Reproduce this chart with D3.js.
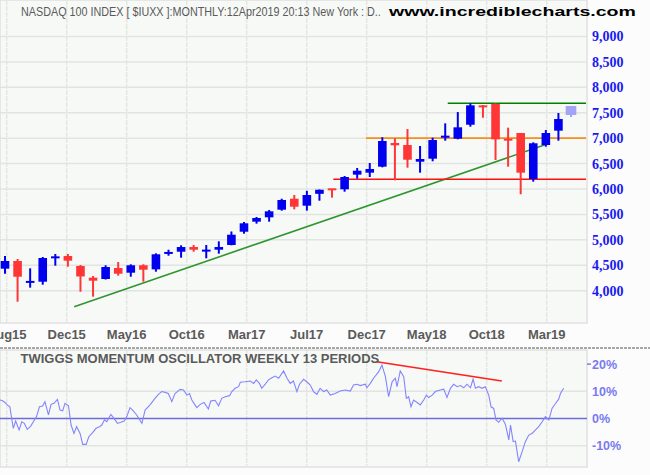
<!DOCTYPE html>
<html><head><meta charset="utf-8">
<script src="https://cdn.jsdelivr.net/npm/d3@7"></script>
<style>body{margin:0;background:#fbfcfb;} svg{display:block}</style>
</head><body><svg id="c" width="650" height="475"></svg>
<script>
// ---------- DATA ----------
const months = ["Jul15","Aug15","Sep15","Oct15","Nov15","Dec15","Jan16","Feb16","Mar16","Apr16","May16","Jun16",
  "Jul16","Aug16","Sep16","Oct16","Nov16","Dec16","Jan17","Feb17","Mar17","Apr17","May17","Jun17",
  "Jul17","Aug17","Sep17","Oct17","Nov17","Dec17","Jan18","Feb18","Mar18","Apr18","May18","Jun18",
  "Jul18","Aug18","Sep18","Oct18","Nov18","Dec18","Jan19","Feb19","Mar19","Apr19"];
const opens  = [4433,4584,4165,4177,4648,4682,4486,4256,4230,4446,4354,4500,
  4420,4730,4767,4859,4781,4806,4899,5160,5357,5443,5593,5809,
  5672,5905,5998,5994,6282,6321,6439,6905,6865,6537,6596,7009,
  6989,7264,7632,7672,6983,7101,6197,6865,7147,7455];
const highs  = [4682,4623,4440,4663,4722,4722,4505,4289,4500,4564,4519,4519,
  4735,4806,4893,4899,4899,4971,5165,5351,5449,5587,5809,5882,
  5965,5990,6000,6256,6413,6511,7017,6997,7179,6846,7009,7291,
  7513,7685,7652,7685,7206,7101,6918,7160,7494,7632];
const lows   = [4334,3784,4060,4118,4492,4472,3980,3882,4220,4295,4275,4177,
  4374,4688,4649,4767,4637,4728,4893,5121,5318,5357,5573,5600,
  5575,5770,5830,5947,6203,6236,6426,6171,6419,6321,6545,6950,
  6977,7225,7402,6570,6439,5896,6144,6832,6950,7416];
const closes = [4584,4275,4181,4643,4664,4590,4280,4197,4466,4334,4500,4413,
  4716,4755,4859,4806,4795,4859,5101,5325,5430,5561,5784,5652,
  5882,5985,5990,6236,6360,6393,6944,6859,6576,6590,6963,7049,
  7213,7645,7618,6977,6957,6321,6899,7101,7376,7632];
const priceTicks = [4000,4500,5000,5500,6000,6500,7000,7500,8000,8500,9000];
const monthTickLabels = ["Aug15","Dec15","May16","Oct16","Mar17","Jul17","Dec17","May18","Oct18","Mar19"];

// support / resistance lines (month index, price)
const supportMonths = [5.5, 43.0];
const supportValues = [3685, 6875];
const hLineStart = [35.2, 28.7, 26.1];   // month index where the horizontal lines begin
const hLineValue = [7685, 7000, 6191];

// weekly oscillator: week number (from late Jun 2015) and % value
const oscWeeks = [0,0.9,1.7,2.5,3.4,4.6,5.4,6.6,7.5,8.4,9.4,10.6,11.5,12.6,13.6,14.7,15.5,16.7,17.6,18.6,
  19.8,20.7,21.6,22.4,23.6,24.5,25.5,26.4,27.6,28.5,29.7,30.6,32.0,33.1,34.3,35.1,36.0,36.8,38.2,39.1,
  40.5,41.6,42.8,43.7,44.8,45.7,47.1,48.9,50.0,51.7,53.4,54.6,55.7,56.9,58.0,59.2,60.3,62.1,63.2,64.4,
  65.3,66.1,67.8,69.0,70.3,71.8,72.6,74.1,75.3,76.4,77.6,79.1,79.9,81.0,82.2,82.8,84.5,86.2,87.4,88.3,
  89.4,90.2,91.4,92.5,93.7,94.8,96.0,97.7,98.9,100.0,101.1,102.3,103.2,104.6,105.7,106.9,108.0,109.2,110.3,
  111.5,112.6,113.8,115.5,117.2,119.0,120.7,121.8,123.0,124.1,125.9,126.4,127.6,128.7,130.5,131.6,132.8,
  133.9,135.1,136.2,136.8,137.9,139.1,140.0,140.8,141.6,142.5,143.7,144.8,146.0,146.9,147.7,148.9,150.0,
  151.7,152.9,154.0,155.2,156.3,157.5,158.6,159.8,160.9,162.1,163.0,163.8,164.9,166.1,167.2,168.4,169.2,
  170.1,170.9,171.8,173.0,174.1,174.7,175.3,175.9,176.8,177.6,178.7,179.9,181.0,182.2,183.3,184.5,185.6,
  186.8,187.9,189.1,190.2,191.4,192.5,193.1,194.2];
const oscValues = [6.8,6.5,5.9,5.0,4.3,-3.6,-0.9,-4.2,-1.2,-1.8,-4.0,-2.8,-1.2,0.7,4.3,4.6,6.2,1.3,5.2,5.6,
  7.0,3.1,2.8,5.6,4.7,-2.4,-5.5,-3.0,-5.5,-9.5,-9.5,-6.7,-5.1,-3.6,-3.0,-2.4,-0.5,-1.2,1.5,0.3,
  -1.8,-1.4,-0.9,0.7,4.0,3.1,1.3,-1.8,3.1,5.0,7.4,8.9,9.9,9.6,9.2,6.2,9.2,10.7,10.5,8.6,
  9.2,6.8,4.0,5.2,5.9,3.5,6.4,6.7,4.7,7.4,8.0,8.4,9.9,11.1,11.7,13.3,13.5,13.8,12.9,14.2,
  12.9,11.1,12.6,14.2,15.0,15.6,14.8,17.5,14.8,12.9,13.8,9.9,12.6,14.4,13.5,12.3,9.9,8.9,11.1,
  9.9,10.5,8.6,9.2,10.1,10.5,10.1,12.3,12.6,12.1,12.6,11.3,12.9,14.8,17.2,19.7,15.4,
  8.0,13.5,14.8,11.7,17.5,15.4,7.4,8.0,4.3,6.8,5.9,5.0,6.8,8.6,7.7,8.6,9.9,
  10.5,10.8,7.7,11.1,12.6,11.7,12.1,11.3,12.6,11.3,14.5,11.1,11.7,11.1,11.7,8.6,4.3,
  3.7,-0.5,-1.4,0.1,-2.1,-4.8,-7.9,-2.4,-8.5,-8.3,-15.9,-12.2,-8.5,-6.1,-5.5,-4.2,-3.0,
  -1.2,0.7,-0.5,3.7,5.5,7.1,9.2,11.1];
const oscTicks = [20,10,0,-10];
const oscGridTicks = [10,-10];
const divergenceMonths = [29.55, 39.5];
const divergenceValues = [20.9, 13.8];

// ---------- CHART ----------
const svg = d3.select("#c");
const plotRight = 587, mainTop = 0, mainBottom = 323, oscTop = 350, oscBottom = 467;
const xM = d3.scaleLinear().domain([0, months.length - 1]).range([5, 571]);
const y = d3.scaleLinear().domain([4000, 8000]).range([290.7, 87.3]);
const xW = d3.scaleLinear().domain([0, 52/12]).range([xM(-0.4), xM(0.6)]);
const yO = d3.scaleLinear().domain([0, 20]).range([418.5, 364.1]);
const gridX = d3.scalePoint().domain(monthTickLabels).range([6.7, 546.7]);

// text squeezed horizontally to a target width (transform keeps its box honest)
function fitText(x, yBase, width, str, attrs) {
  const t = svg.append("text").attr("x", 0).attr("y", 0).text(str);
  Object.entries(attrs).forEach(([k, v]) => t.attr(k, v));
  const w = t.node().getComputedTextLength();
  t.attr("transform", `translate(${x},${yBase}) scale(${width / w},1)`);
  return t;
}

svg.append("rect").attr("width",650).attr("height",475).attr("fill","#fbfcfb");
// main panel
svg.append("rect").attr("x",0).attr("y",mainTop).attr("width",plotRight).attr("height",mainBottom-mainTop)
  .attr("fill","#f7f9f7").attr("stroke","#e0e0e0").attr("stroke-width",1.5);
const gMain = svg.append("g");
gMain.selectAll("line.hg").data(priceTicks).join("line")
  .attr("x1",0).attr("x2",plotRight).attr("y1",d=>y(d)).attr("y2",d=>y(d))
  .attr("stroke","#e2e4e2").attr("stroke-width",1.5);
gMain.selectAll("line.vg").data(monthTickLabels).join("line")
  .attr("x1",d=>gridX(d)).attr("x2",d=>gridX(d)).attr("y1",mainTop).attr("y2",mainBottom)
  .attr("stroke","#e4e6e4").attr("stroke-width",1.5).attr("stroke-dasharray","5,1");

// right axis labels
svg.append("g").selectAll("text").data(priceTicks).join("text")
  .attr("x",592).attr("y",d=>y(d)).attr("dy","0.36em")
  .attr("font-family","'Liberation Serif','Times New Roman',serif").attr("font-weight","bold")
  .attr("font-size",14).attr("fill","#1a1af0").text(d=>d3.format(",")(d));

// x labels
svg.append("g").selectAll("text").data(monthTickLabels).join("text")
  .attr("x",d=>gridX(d)).attr("y",339).attr("text-anchor","middle")
  .attr("font-family","'Liberation Sans Narrow','Arial Narrow','Liberation Sans',sans-serif")
  .attr("font-weight","bold").attr("font-size",13).attr("fill","#5a5a5a").text(d=>d);

// support line
const supLine = d3.line().x(d=>xM(d[0])).y(d=>y(d[1]));
gMain.append("path").attr("d", supLine(d3.zip(supportMonths, supportValues)))
  .attr("fill","none").attr("stroke","#2f962f").attr("stroke-width",1.6);
// horizontal lines
const hColors = ["#008000","#f39020","#ff1010"];
hLineValue.forEach((v,i)=>{
  gMain.append("line").attr("x1",xM(hLineStart[i])).attr("x2",plotRight-1)
    .attr("y1",y(v)).attr("y2",y(v)).attr("stroke",hColors[i]).attr("stroke-width",1.6);
});

// candles
const candles = months.map((m,i)=>({m,i,o:opens[i],h:highs[i],l:lows[i],c:closes[i]}));
const last = months.length - 1;
const colorOf = d => d.i === last ? "#a4a4f6" : (d.c >= d.o ? "#0000ee" : "#ff3636");
const bw = 8.6;
const gC = gMain.append("g");
gC.selectAll("line.wick").data(candles).join("line")
  .attr("x1",d=>xM(d.i)).attr("x2",d=>xM(d.i)).attr("y1",d=>y(d.h)).attr("y2",d=>y(d.l))
  .attr("stroke",colorOf).attr("stroke-width",2);
gC.selectAll("rect.body").data(candles).join("rect")
  .attr("x",d=>xM(d.i)-bw/2 - (d.i===last?1:0)).attr("width",d=>bw + (d.i===last?2:0))
  .attr("y",d=>{const t=y(Math.max(d.o,d.c)), b=y(Math.min(d.o,d.c)); return b-t<2 ? (t+b)/2-1 : t;})
  .attr("height",d=>Math.max(2, y(Math.min(d.o,d.c))-y(Math.max(d.o,d.c))))
  .attr("fill",colorOf);

// title
const sansN = "'Liberation Sans Narrow','Arial Narrow','Liberation Sans',sans-serif";
fitText(21, 16, 360, "NASDAQ 100 INDEX [ $IUXX ]:MONTHLY:12Apr2019 20:13 New York : D..",
  {"font-size":13, "font-family":sansN, "fill":"#5a5a5a"});
fitText(389, 16, 247, "www.incrediblecharts.com",
  {"font-size":13, "font-family":sansN, "font-weight":"bold", "fill":"#000"});

// separator
svg.append("line").attr("x1",0).attr("x2",650).attr("y1",348).attr("y2",348)
  .attr("stroke","#a8a8a8").attr("stroke-width",2).attr("stroke-dasharray","3,1");

// oscillator panel
svg.append("rect").attr("x",0).attr("y",oscTop).attr("width",plotRight).attr("height",oscBottom-oscTop)
  .attr("fill","#f7f9f7").attr("stroke","#e0e0e0").attr("stroke-width",1.5);
const gO = svg.append("g");
gO.selectAll("line.og").data(oscGridTicks).join("line")
  .attr("x1",0).attr("x2",plotRight).attr("y1",d=>yO(d)).attr("y2",d=>yO(d))
  .attr("stroke","#e2e4e2").attr("stroke-width",1.5);
gO.selectAll("line.ov").data(monthTickLabels).join("line")
  .attr("x1",d=>gridX(d)).attr("x2",d=>gridX(d)).attr("y1",oscTop).attr("y2",oscBottom)
  .attr("stroke","#e4e6e4").attr("stroke-width",1.5).attr("stroke-dasharray","5,1");
gO.append("line").attr("x1",0).attr("x2",plotRight).attr("y1",yO(0)).attr("y2",yO(0))
  .attr("stroke","#6c6cd6").attr("stroke-width",1.5);
fitText(20.5, 363, 359, "TWIGGS MOMENTUM OSCILLATOR WEEKLY 13 PERIODS",
  {"font-size":13, "font-family":"'Liberation Sans','Arial',sans-serif", "font-weight":"bold", "fill":"#5a5a5a"});
const oscLine = d3.line().x(d=>xW(d[0])).y(d=>yO(d[1]));
gO.append("path").attr("d",oscLine(d3.zip(oscWeeks,oscValues)))
  .attr("fill","none").attr("stroke","#8484ff").attr("stroke-width",1.1);
gO.append("path").attr("d",d3.line().x(d=>xM(d[0])).y(d=>yO(d[1]))(d3.zip(divergenceMonths,divergenceValues)))
  .attr("fill","none").attr("stroke","#ff2020").attr("stroke-width",1.5);
// osc axis
svg.append("line").attr("x1",587).attr("x2",591).attr("y1",yO(20)).attr("y2",yO(20))
  .attr("stroke","#7a7af0").attr("stroke-width",1.5);
svg.append("g").selectAll("text").data(oscTicks).join("text")
  .attr("x",592).attr("y",d=>yO(d)).attr("dy","0.36em")
  .attr("font-family","'Liberation Sans','Arial',sans-serif").attr("font-weight","bold")
  .attr("font-size",12.5).attr("fill","#7a7af0").text(d=>d+"%");
</script></body></html>
